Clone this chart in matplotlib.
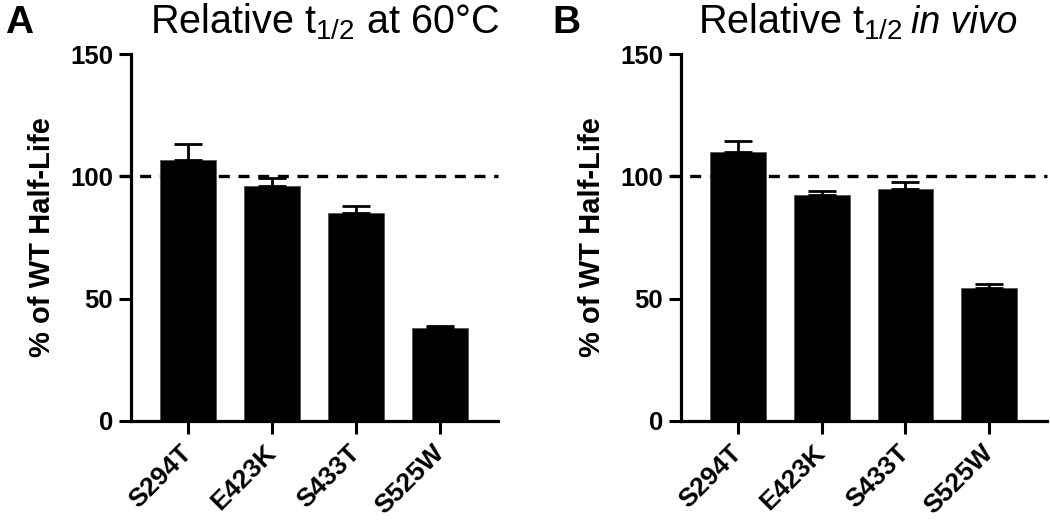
import matplotlib
matplotlib.use("Agg")
import matplotlib.pyplot as plt
from matplotlib.transforms import ScaledTranslation

plt.rcParams.update(
    {
        "font.family": "Liberation Sans",
        "mathtext.fontset": "custom",
        "mathtext.rm": "Liberation Sans",
        "mathtext.it": "Liberation Sans:italic",
        "mathtext.bf": "Liberation Sans:bold",
    }
)

MUTANTS = ["S294T", "E423K", "S433T", "S525W"]

# panel A: relative half-life at 60 C (% of WT)
HEAT_MEAN = [106.7, 96.2, 84.9, 38.0]
HEAT_SEM = [6.5, 3.2, 3.0, 1.0]

# panel B: relative half-life in vivo (% of WT)
VIVO_MEAN = [110.1, 92.5, 94.7, 54.5]
VIVO_SEM = [4.3, 1.5, 3.0, 1.6]

Y_TICKS = [0, 50, 100, 150]
WT_LEVEL = 100

W, H = 1050, 524


def draw_panel(fig, ax, means, errs):
    x = list(range(len(MUTANTS)))
    ax.hlines(WT_LEVEL, -0.81, 3.69, colors="black", linestyles=(0, (3.3, 2.6)),
              linewidth=2.4, clip_on=False, zorder=1)
    ax.bar(x, means, width=0.667, color="black", edgecolor="#555555",
           linewidth=0.6, zorder=2)
    ax.errorbar(x, means, yerr=[[0] * len(errs), errs], fmt="none",
                ecolor="black", elinewidth=2.0, capsize=10, capthick=2.0,
                zorder=3)
    ax.set_xlim(-0.68, 3.69)
    ax.set_ylim(0, 150)
    ax.set_yticks(Y_TICKS)
    ax.set_yticklabels([str(t) for t in Y_TICKS], fontsize=18.5, fontweight="bold")
    ax.set_xticks(x)
    labels = ax.set_xticklabels(MUTANTS, rotation=45, ha="right", va="center",
                                rotation_mode="anchor", fontsize=19, fontweight="bold")
    # nudge the slanted labels a little to the right, like the original
    shift = ScaledTranslation(4 / 100, 0, fig.dpi_scale_trans)
    for lab in labels:
        lab.set_transform(lab.get_transform() + shift)
    ax.tick_params(axis="y", width=2.2, length=9, pad=4)
    ax.tick_params(axis="x", width=2.2, length=9, pad=11)
    for side in ("top", "right"):
        ax.spines[side].set_visible(False)
    for side in ("left", "bottom"):
        ax.spines[side].set_linewidth(2.3)
    ax.set_ylabel("% of WT Half-Life", fontsize=21, fontweight="bold", labelpad=10)


fig = plt.figure(figsize=(W / 100, H / 100), dpi=100)
ax_a = fig.add_axes([131 / W, 1 - 421 / H, 367 / W, 367 / H])
ax_b = fig.add_axes([681 / W, 1 - 421 / H, 366 / W, 367 / H])

draw_panel(fig, ax_a, HEAT_MEAN, HEAT_SEM)
draw_panel(fig, ax_b, VIVO_MEAN, VIVO_SEM)

fig.text(5 / W, 1 - 33 / H, "A", fontsize=28, fontweight="bold", va="baseline")
fig.text(552 / W, 1 - 33 / H, "B", fontsize=28, fontweight="bold", va="baseline")
fig.text(150 / W, 1 - 33 / H, r"Relative t$_{1/2}$ at 60°C", fontsize=28.5,
         va="baseline")
fig.text(698 / W, 1 - 33 / H, r"Relative t$_{1/2}$", fontsize=28.5, va="baseline")
fig.text(911 / W, 1 - 33 / H, "in vivo", fontsize=27, style="italic",
         va="baseline")

fig.savefig("out.png", dpi=100)
